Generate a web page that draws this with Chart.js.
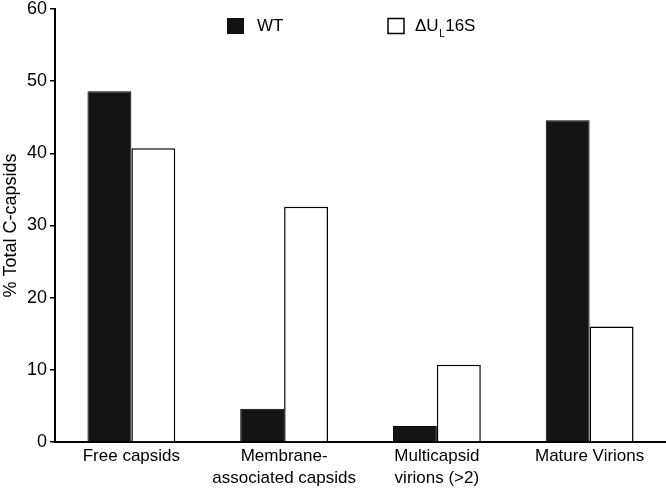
<!DOCTYPE html>
<html>
<head>
<meta charset="utf-8">
<script src="https://cdn.jsdelivr.net/npm/chart.js@4/dist/chart.umd.min.js"></script>
<style>
  html, body { margin: 0; padding: 0; background: #fff; }
  #wrap { width: 666px; height: 488px; position: relative; }
</style>
</head>
<body>
<div id="wrap"><canvas id="chart"></canvas></div>
<script>
// categories and values
const categories = [
    'Free capsids',
    ['Membrane-', 'associated capsids'],
    ['Multicapsid', 'virions (>2)'],
    'Mature Virions'
];
const wtValues = [48.6, 4.6, 2.2, 44.6];
const mutantValues = [40.7, 32.6, 10.7, 16.0];
const yTicks = [0, 10, 20, 30, 40, 50, 60];

const FONT = '"Liberation Sans", Arial, sans-serif';

// legend with subscript "L", drawn by hand
const legendPlugin = {
    id: 'customLegend',
    afterDraw(chart) {
        const ctx = chart.ctx;
        ctx.save();
        ctx.fillStyle = '#111';
        ctx.fillRect(227, 18, 17, 16);
        ctx.strokeStyle = '#000';
        ctx.lineWidth = 1.5;
        ctx.strokeRect(388, 18.5, 16, 15);

        ctx.fillStyle = '#000';
        ctx.textBaseline = 'middle';
        ctx.font = '17px ' + FONT;
        ctx.fillText('WT', 257, 26);

        let x = 415;
        ctx.fillText('\u0394U', x, 26);
        x += ctx.measureText('\u0394U').width;
        ctx.font = '10px ' + FONT;
        ctx.fillText('L', x + 0.5, 34);
        x += ctx.measureText('L').width + 1;
        ctx.font = '17px ' + FONT;
        ctx.fillText('16S', x, 26);
        ctx.restore();
    }
};

new Chart(document.getElementById('chart'), {
    type: 'bar',
    data: {
        labels: categories,
        datasets: [
            {
                label: 'WT',
                data: wtValues,
                backgroundColor: '#141414',
                borderColor: '#000',
                borderWidth: 1
            },
            {
                label: '\u0394UL16S',
                data: mutantValues,
                backgroundColor: '#fff',
                borderColor: '#000',
                borderWidth: 1.5
            }
        ]
    },
    options: {
        responsive: true,
        maintainAspectRatio: false,
        animation: false,
        categoryPercentage: 0.575,
        barPercentage: 1,
        layout: { padding: { top: 0, right: 0, left: 0, bottom: 0 } },
        plugins: {
            legend: { display: false },
            tooltip: { enabled: false }
        },
        scales: {
            x: {
                grid: { display: true, drawOnChartArea: false, drawTicks: false },
                border: { display: true, color: '#000', width: 2 },
                ticks: {
                    color: '#000',
                    font: { family: FONT, size: 17, lineHeight: 1.25 },
                    maxRotation: 0,
                    autoSkip: false,
                    padding: 4
                },
                afterFit(scale) { scale.height = 46; }
            },
            y: {
                min: 0,
                max: 60,
                afterBuildTicks(scale) {
                    scale.ticks = yTicks.map(v => ({ value: v }));
                },
                grid: {
                    drawOnChartArea: false,
                    drawTicks: true,
                    tickLength: 5,
                    color: '#000',
                    lineWidth: 1.5
                },
                border: { display: true, color: '#000', width: 2 },
                ticks: {
                    color: '#000',
                    font: { family: FONT, size: 18 },
                    padding: 3
                },
                title: {
                    display: true,
                    text: '% Total C-capsids',
                    color: '#000',
                    font: { family: FONT, size: 18 },
                    padding: 0
                },
                afterFit(scale) {
                    scale.width = 55;
                    scale.paddingTop = 9;
                }
            }
        }
    },
    plugins: [legendPlugin]
});
</script>
</body>
</html>
